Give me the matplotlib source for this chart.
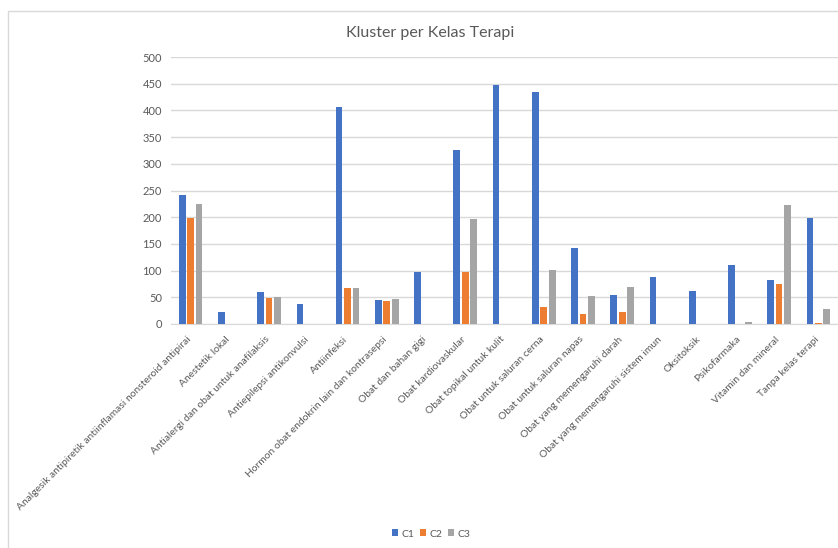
import numpy as np
import matplotlib.pyplot as plt
import matplotlib.transforms as mtransforms
from matplotlib.patches import Rectangle

categories = [
    "Analgesik antipiretik antiinflamasi nonsteroid antipirai",
    "Anestetik lokal",
    "Antialergi dan obat untuk anafilaksis",
    "Antiepilepsi antikonvulsi",
    "Antiinfeksi",
    "Hormon obat endokrin lain dan kontrasepsi",
    "Obat dan bahan gigi",
    "Obat kardiovaskular",
    "Obat topikal untuk kulit",
    "Obat untuk saluran cerna",
    "Obat untuk saluran napas",
    "Obat yang memengaruhi darah",
    "Obat yang memengaruhi sistem imun",
    "Oksitoksik",
    "Psikofarmaka",
    "Vitamin dan mineral",
    "Tanpa kelas terapi",
]

c1 = [242, 23, 59, 37, 406, 45, 98, 326, 447, 435, 142, 54, 88, 62, 111, 83, 198]
c2 = [198, 0, 49, 0, 68, 43, 0, 98, 0, 32, 19, 23, 0, 0, 0, 74, 2]
c3 = [224, 0, 51, 0, 68, 47, 0, 196, 0, 102, 52, 70, 0, 0, 4, 223, 29]

series = [("C1", c1, "#4472C4"), ("C2", c2, "#ED7D31"), ("C3", c3, "#A5A5A5")]

plt.rcParams['font.family'] = ['Lato', 'DejaVu Sans']

fig = plt.figure(figsize=(8.38, 5.48), dpi=100, facecolor='white')
fig.patches.append(Rectangle((8 / 838, -0.1), 1.2, (548 - 11) / 548 + 0.1,
                             transform=fig.transFigure, fill=False,
                             edgecolor='#D9D9D9', linewidth=1))

ax = fig.add_axes([171 / 838, 1 - 324 / 548, (838 - 171) / 838, (324 - 57) / 548])

x = np.arange(len(categories))
w = 0.17
pitch = 0.215
for i, (name, vals, col) in enumerate(series):
    ax.bar(x + (i - 1) * pitch, vals, width=w, color=col, label=name, zorder=3)

ax.set_xlim(-0.5, len(categories) - 0.5)
ax.set_ylim(0, 500)
ax.set_yticks(np.arange(0, 501, 50))
ax.yaxis.grid(True, color='#D9D9D9', linewidth=1, zorder=0)
ax.set_axisbelow(True)
for s in ['top', 'right', 'left']:
    ax.spines[s].set_visible(False)
ax.spines['bottom'].set_color('#D9D9D9')
ax.tick_params(axis='both', length=0, colors='#595959')
ax.tick_params(axis='y', pad=6.5, labelsize=8)

ax.set_xticks(x)
ax.set_xticklabels(categories, rotation=45, ha='right', va='center',
                   rotation_mode='anchor', fontsize=7.4)
# push the slanted labels a bit lower, like the Excel original
shift = mtransforms.ScaledTranslation(-1 / 100, -9 / 100, fig.dpi_scale_trans)
for lbl in ax.get_xticklabels():
    lbl.set_color('#595959')
    lbl.set_transform(lbl.get_transform() + shift)

fig.text(430 / 838, 1 - 33 / 548, "Kluster per Kelas Terapi", ha='center',
         va='center', fontsize=11.5, color='#595959')

leg = fig.legend(loc='center', bbox_to_anchor=(431 / 838, 1 - 534 / 548), ncol=3,
                 frameon=False, fontsize=7.5, handlelength=0.65, handleheight=0.65,
                 handletextpad=0.3, columnspacing=0.5)
for t in leg.get_texts():
    t.set_color('#595959')

fig.savefig('out.png', dpi=100, facecolor='white')
